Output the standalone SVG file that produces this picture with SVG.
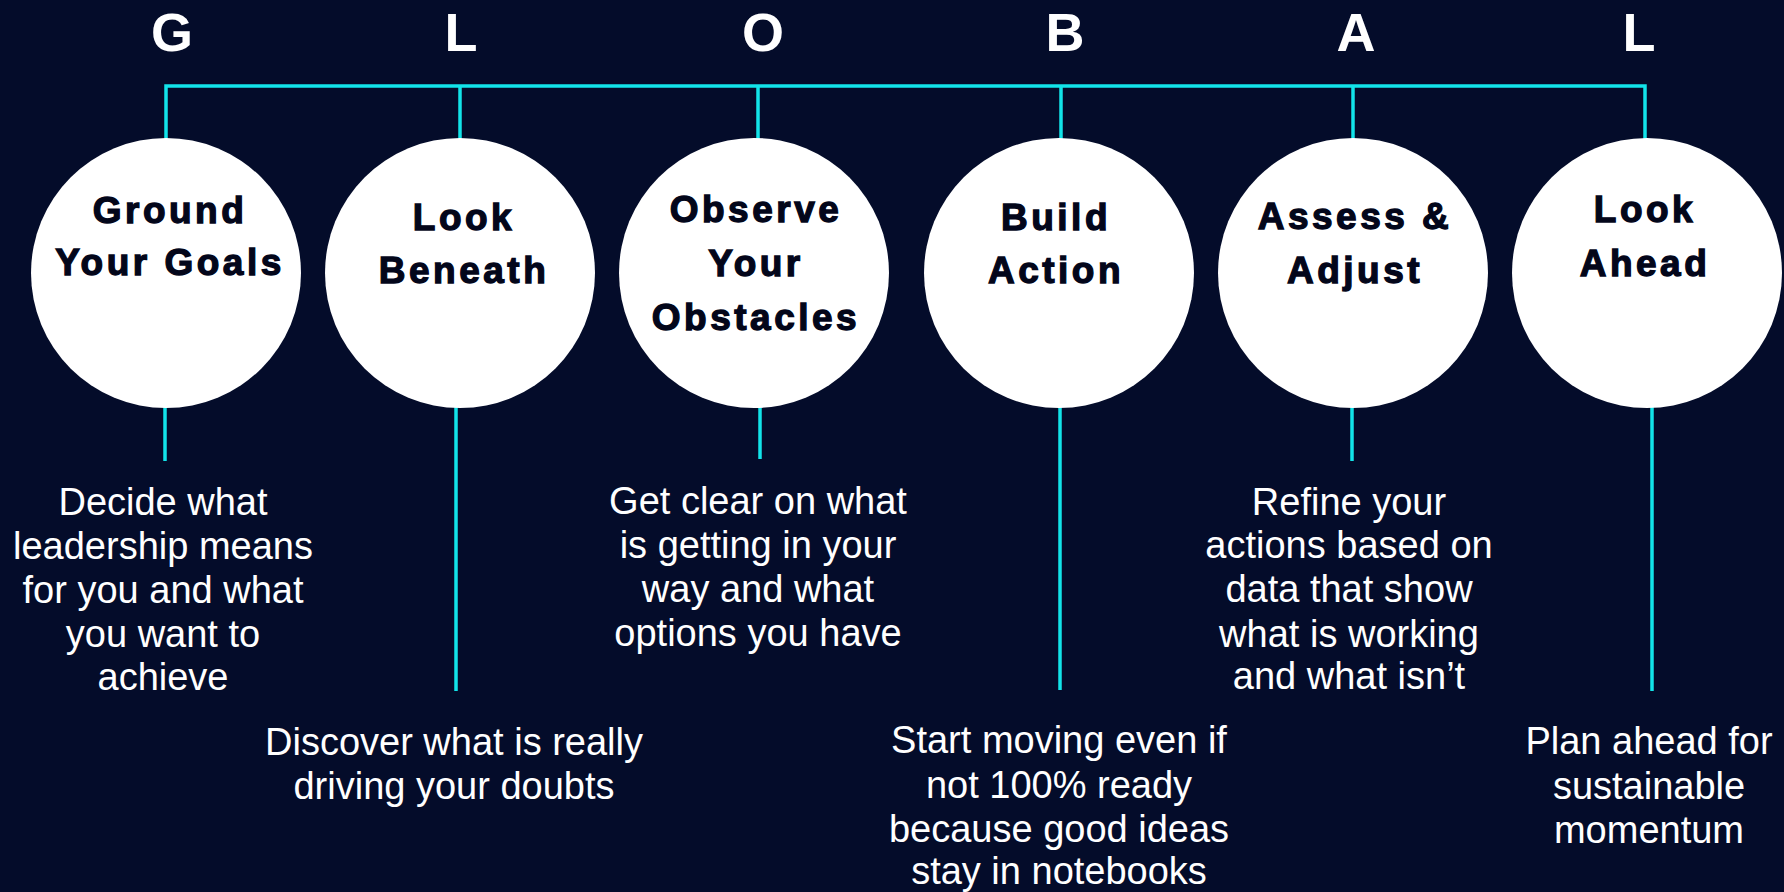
<svg xmlns="http://www.w3.org/2000/svg" width="1784" height="892" viewBox="0 0 1784 892">
<style>
.bg{fill:#040c2a}
.letter{font-family:"Liberation Sans",Arial,sans-serif;font-weight:bold;font-size:54px;fill:#ffffff;text-anchor:middle}
.circ{fill:#ffffff}
.title{font-family:"Liberation Sans",Arial,sans-serif;font-weight:bold;font-size:37px;letter-spacing:3.5px;fill:#03061a;stroke:#03061a;stroke-width:1.3;text-anchor:middle}
.desc{font-family:"Liberation Sans",Arial,sans-serif;font-size:38px;fill:#ffffff;text-anchor:middle}
.ln{stroke:#12e4ea;stroke-width:3.5;fill:none}
</style>
<rect class="bg" x="0" y="0" width="1784" height="892"/>
<g id="letters">
<text class="letter" x="172" y="51">G</text>
<text class="letter" x="461" y="51">L</text>
<text class="letter" x="763" y="51">O</text>
<text class="letter" x="1065" y="51">B</text>
<text class="letter" x="1356" y="51">A</text>
<text class="letter" x="1639" y="51">L</text>
</g>
<g id="connectors">
<polyline class="ln" points="166,139 166,86 1645,86 1645,139"/>
<line class="ln" x1="460" y1="86" x2="460" y2="139"/>
<line class="ln" x1="758" y1="86" x2="758" y2="139"/>
<line class="ln" x1="1061" y1="86" x2="1061" y2="139"/>
<line class="ln" x1="1353" y1="86" x2="1353" y2="139"/>
<line class="ln" x1="165" y1="405" x2="165" y2="461"/>
<line class="ln" x1="456" y1="405" x2="456" y2="691"/>
<line class="ln" x1="760" y1="405" x2="760" y2="459"/>
<line class="ln" x1="1060" y1="405" x2="1060" y2="690"/>
<line class="ln" x1="1352" y1="405" x2="1352" y2="461"/>
<line class="ln" x1="1652" y1="405" x2="1652" y2="691"/>
</g>
<g id="node-g">
<circle class="circ" cx="166" cy="273" r="135"/>
<text class="title" x="170" y="223">Ground</text>
<text class="title" x="170" y="275">Your Goals</text>
<text class="desc" x="163" y="515">Decide what</text>
<text class="desc" x="163" y="559">leadership means</text>
<text class="desc" x="163" y="603">for you and what</text>
<text class="desc" x="163" y="647">you want to</text>
<text class="desc" x="163" y="690">achieve</text>
</g>
<g id="node-l1">
<circle class="circ" cx="460" cy="273" r="135"/>
<text class="title" x="464" y="230">Look</text>
<text class="title" x="464" y="283">Beneath</text>
<text class="desc" x="454" y="755">Discover what is really</text>
<text class="desc" x="454" y="799">driving your doubts</text>
</g>
<g id="node-o">
<circle class="circ" cx="754" cy="273" r="135"/>
<text class="title" x="756" y="222">Observe</text>
<text class="title" x="756" y="276">Your</text>
<text class="title" x="756" y="330">Obstacles</text>
<text class="desc" x="758" y="514">Get clear on what</text>
<text class="desc" x="758" y="558">is getting in your</text>
<text class="desc" x="758" y="602">way and what</text>
<text class="desc" x="758" y="646">options you have</text>
</g>
<g id="node-b">
<circle class="circ" cx="1059" cy="273" r="135"/>
<text class="title" x="1056" y="230">Build</text>
<text class="title" x="1056" y="283">Action</text>
<text class="desc" x="1059" y="753">Start moving even if</text>
<text class="desc" x="1059" y="798">not 100% ready</text>
<text class="desc" x="1059" y="842">because good ideas</text>
<text class="desc" x="1059" y="884">stay in notebooks</text>
</g>
<g id="node-a">
<circle class="circ" cx="1353" cy="273" r="135"/>
<text class="title" x="1355" y="229">Assess &amp;</text>
<text class="title" x="1355" y="283">Adjust</text>
<text class="desc" x="1349" y="515">Refine your</text>
<text class="desc" x="1349" y="558">actions based on</text>
<text class="desc" x="1349" y="602">data that show</text>
<text class="desc" x="1349" y="647">what is working</text>
<text class="desc" x="1349" y="689">and what isn’t</text>
</g>
<g id="node-l2">
<circle class="circ" cx="1647" cy="273" r="135"/>
<text class="title" x="1645" y="222">Look</text>
<text class="title" x="1645" y="276">Ahead</text>
<text class="desc" x="1649" y="754">Plan ahead for</text>
<text class="desc" x="1649" y="799">sustainable</text>
<text class="desc" x="1649" y="843">momentum</text>
</g>
</svg>
